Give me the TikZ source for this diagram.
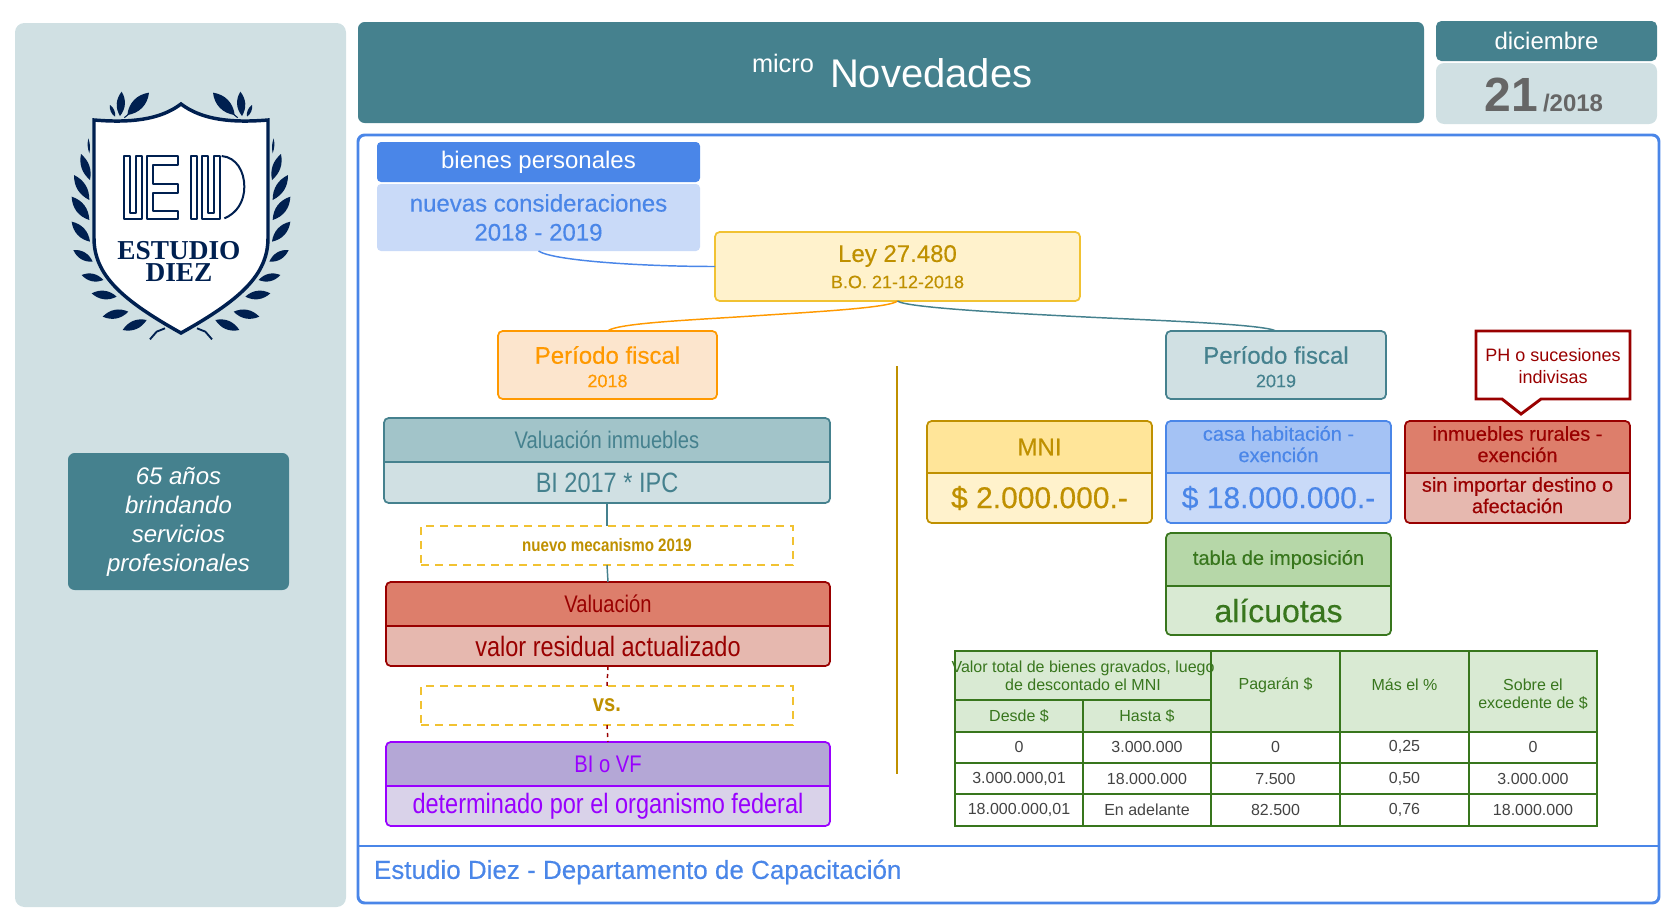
\documentclass[tikz,border=0pt]{standalone}
\usepackage{fontspec}
\setmainfont{Liberation Sans}
\newfontfamily\medfont[FakeBold=0.35]{Liberation Sans}
\newfontfamily\condfont[FakeStretch=0.84]{Liberation Sans}
\newfontfamily\condbold[FakeStretch=0.84]{Liberation Sans Bold}
\newfontfamily\logofont{Liberation Serif Bold}
\usetikzlibrary{calc}

\definecolor{tealD}{HTML}{45818E}
\definecolor{tealM}{HTML}{A2C4C9}
\definecolor{tealL}{HTML}{D0E0E3}
\definecolor{blueD}{HTML}{4A86E8}
\definecolor{blueM}{HTML}{A4C2F4}
\definecolor{blueL}{HTML}{C9DAF8}
\definecolor{yellD}{HTML}{BF9000}
\definecolor{yellS}{HTML}{F1C232}
\definecolor{yellM}{HTML}{FFE599}
\definecolor{yellL}{HTML}{FFF2CC}
\definecolor{redD}{HTML}{990000}
\definecolor{redM}{HTML}{DD7E6B}
\definecolor{redL}{HTML}{E6B8AF}
\definecolor{purpD}{HTML}{9900FF}
\definecolor{purpM}{HTML}{B4A7D6}
\definecolor{purpL}{HTML}{D9D2E9}
\definecolor{greenD}{HTML}{38761D}
\definecolor{greenM}{HTML}{B6D7A8}
\definecolor{greenL}{HTML}{D9EAD3}
\definecolor{orangeD}{HTML}{FF9900}
\definecolor{orangeL}{HTML}{FCE5CD}
\definecolor{greyD}{HTML}{666666}
\definecolor{cellink}{HTML}{434343}
\definecolor{navy}{HTML}{002050}

\tikzset{
  txt/.style={inner sep=0pt, outer sep=0pt, align=center},
  frame/.style={inner sep=0pt, outer sep=0pt, rounded corners=3.5pt},
  link/.style={line width=1.1pt},
  cell/.style={txt, text=cellink, font=\fontsize{12}{14}\selectfont},
  hcell/.style={txt, text=greenD, font=\fontsize{12}{13.5}\selectfont},
  dashbox/.style={inner sep=0pt, outer sep=0pt, draw=yellS, line width=1.1pt, dash pattern=on 6pt off 4.5pt}
}

% plain box from its corners: name, x0, y0, x1, y1, options, text
\newcommand{\plainbox}[7]{%
  \node[frame, #6, minimum width={(#4-#2)*0.75pt}, minimum height={(#5-#3)*0.75pt}]
    (#1) at ({(#2+#4)/2},{(#3+#5)/2}) {#7};}

% two part box: name, x0, x1, ytop, ysplit, ybottom, colour, head, body
\newcommand{\twobox}[9]{%
  \fill[#7L, rounded corners=3.5pt] (#2,#4) rectangle (#3,#6);
  \begin{scope}
    \clip[rounded corners=3.5pt] (#2,#4) rectangle (#3,#6);
    \fill[#7M] (#2,#4) rectangle (#3,#5);
  \end{scope}
  \node[frame, draw=#7D, line width=1.3pt, minimum width={(#3-#2)*0.75pt}, minimum height={(#6-#4)*0.75pt}]
    (#1) at ({(#2+#3)/2},{(#4+#6)/2}) {};
  \draw[#7D, line width=1.3pt] (#2,#5) -- (#3,#5);
  \node[txt, text=#7D] (#1h) at ({(#2+#3)/2},{(#4+#5)/2}) {#8};
  \node[txt, text=#7D] (#1b) at ({(#2+#3)/2},{(#5+#6)/2}) {#9};}

\newcommand{\laurel}{%
  \foreach \bx/\by/\tx/\ty/\ba in {
    268/460/265/415/15, 270/540/243/462/30, 268/600/222/525/32, 268/660/215/590/35,
    270/725/215/665/35, 278/785/220/750/35, 310/840/245/825/35, 350/890/275/880/35,
    385/935/308/950/35, 440/960/368/990/35, 345/350/330/315/30, 360/348/365/275/35,
    382/345/447/278/38}
    \fill[navy] (\bx,\by) to[bend left=\ba] (\tx,\ty) to[bend left=\ba] (\bx,\by);
  \draw[navy, line width=1.4pt] (495,985) -- (470,995) -- (450,1018);
  \draw[navy, line width=.8pt] (373,353) -- (395,335);}

\begin{document}
\begin{tikzpicture}[x=.75pt, y=-.75pt]
\useasboundingbox (0,0) rectangle (1677,921);

% side panel
\plainbox{side}{15}{23}{346}{907}{fill=tealL, rounded corners=7pt}{}
\plainbox{claim}{68}{453}{289}{590}{fill=tealD, rounded corners=5pt, text=white, align=center, font=\fontsize{18}{21.75}\selectfont\itshape}{65 años\\brindando\\servicios\\profesionales}

% logo
\begin{scope}[scale=1/3]
  \laurel
\end{scope}
\begin{scope}[shift={(362,0)}, xscale=-1/3, yscale=1/3]
  \laurel
\end{scope}
\draw[navy, line width=2.6pt, fill=white, line join=miter] (94,120) .. controls (130,123) and (160,120) .. (181,104) .. controls (202,120) and (232,123) .. (268,120) -- (268,238) .. controls (268,275) and (240,300) .. (181,333) .. controls (122,300) and (94,275) .. (94,238) -- cycle;
\begin{scope}[shift={(115,150)}, scale=1/3, navy, line width=1.5pt, line join=round]
  \draw (27,18) -- (45,18) -- (45,190) -- (62,190) -- (62,18) -- (80,18) -- (80,208) -- (27,208) -- cycle;
  \draw (97,18) -- (190,18) -- (190,45) -- (115,45) -- (115,102) -- (190,102) -- (190,128) -- (115,128) -- (115,182) -- (190,182) -- (190,208) -- (97,208) -- cycle;
  \draw (228,18) -- (245,18) -- (245,208) -- (228,208) -- cycle;
  \draw (262,18) -- (280,18) -- (280,190) -- (297,190) -- (297,18) -- (315,18) -- (315,208) -- (262,208) -- cycle;
  \draw (320,18) .. controls (365,22) and (388,65) .. (388,110) .. controls (388,155) and (365,190) .. (328,205);
\end{scope}
\node[txt, text=navy, font=\logofont\fontsize{20.5}{20}\selectfont] (estudio) at (179,251) {ESTUDIO};
\node[txt, text=navy, font=\logofont\fontsize{20.5}{20}\selectfont] (diez) at (179,272.5) {DIEZ};

% header
\plainbox{head}{358}{22}{1424}{123}{fill=tealD, rounded corners=5pt}{}
\node[txt, anchor=base west, text=white, font=\fontsize{19}{20}\selectfont] (micro) at (752,72) {micro};
\node[txt, anchor=base west, text=white, font=\fontsize{30}{32}\selectfont] (nov) at (830,87) {Novedades};
\plainbox{mes}{1436}{21}{1657}{61}{fill=tealD, rounded corners=4pt, text=white, font=\fontsize{18}{20}\selectfont}{diciembre}
\plainbox{dia}{1436}{63}{1657}{124}{fill=tealL, rounded corners=6pt}{}
\node[txt, anchor=base east, text=greyD, font=\bfseries\fontsize{36}{38}\selectfont] (dd) at (1538,111) {21};
\node[txt, anchor=base west, text=greyD, font=\bfseries\fontsize{18}{20}\selectfont] (aa) at (1543,111) {/2018};

% main frame
\plainbox{main}{358}{135}{1659}{903}{draw=blueD, line width=2.2pt, rounded corners=5pt}{}
\coordinate (footl) at (main.west |- 0,846);
\coordinate (footr) at (main.east |- 0,846);
\draw[blueD, line width=1.6pt] (footl) -- (footr);
\node[txt, anchor=west, text=blueD, font=\medfont\fontsize{19.5}{22}\selectfont] (foot) at (374,872) {Estudio Diez - Departamento de Capacitación};

% title boxes
\plainbox{bien}{377}{142}{700}{182}{fill=blueD, rounded corners=3pt, text=white, font=\fontsize{18}{20}\selectfont}{bienes personales}
\plainbox{cons}{377}{184}{700}{251}{fill=blueL, rounded corners=3pt, text=blueD, align=center, font=\medfont\fontsize{18}{21.75}\selectfont}{nuevas consideraciones\\2018 - 2019}
\plainbox{ley}{715}{232}{1080}{301}{fill=yellL, draw=yellS, line width=1.3pt}{}
\node[txt, text=yellD, font=\medfont\fontsize{18}{20}\selectfont] (leyt) at (897.5,256) {Ley 27.480};
\node[txt, text=yellD, font=\medfont\fontsize{13.5}{16}\selectfont] (leyd) at (897.5,282) {B.O. 21-12-2018};

\plainbox{per18}{498}{331}{717}{399}{fill=orangeL, draw=orangeD, line width=1.3pt}{}
\node[txt, text=orangeD, font=\medfont\fontsize{18}{20}\selectfont] (per18t) at (607.5,355) {Período fiscal};
\node[txt, text=orangeD, font=\medfont\fontsize{13.5}{16}\selectfont] (per18d) at (607.5,381) {2018};
\plainbox{per19}{1166}{331}{1386}{399}{fill=tealL, draw=tealD, line width=1.3pt}{}
\node[txt, text=tealD, font=\medfont\fontsize{18}{20}\selectfont] (per19t) at (1276,355) {Período fiscal};
\node[txt, text=tealD, font=\medfont\fontsize{13.5}{16}\selectfont] (per19d) at (1276,381) {2019};

% connectors of the top
\draw[blueD, link] (cons.south) .. controls +(15,10) and +(-70,0) .. (ley.west);
\coordinate (midor) at (752,316);
\draw[orangeD, link] (ley.south) .. controls +(-8,7) and +(60,-4) .. (midor) .. controls +(-60,4) and +(10,-8) .. (per18.north);
\coordinate (midte) at (1086,317);
\draw[tealD, link] (ley.south) .. controls +(8,7) and +(-60,-3) .. (midte) .. controls +(60,3) and +(-12,-7) .. (per19.north);

% left column
\twobox{vi}{384}{830}{418}{462}{503}{teal}{\condfont\fontsize{18}{20}\selectfont Valuación inmuebles}{\condfont\fontsize{21}{24}\selectfont BI 2017 * IPC}
\plainbox{nm}{421}{526}{793}{565}{dashbox, rounded corners=0pt, text=yellD, font=\condbold\fontsize{13.5}{16}\selectfont}{nuevo mecanismo 2019}
\twobox{va}{386}{830}{582}{626}{666}{red}{\condfont\fontsize{18}{20}\selectfont Valuación}{\condfont\fontsize{21}{24}\selectfont valor residual actualizado}
\plainbox{vs}{421}{686}{793}{725}{dashbox, rounded corners=0pt, text=yellD, font=\condbold\fontsize{18}{20}\selectfont}{vs.}
\twobox{bi}{386}{830}{742}{786}{826}{purp}{\condfont\fontsize{18}{20}\selectfont BI o VF}{\condfont\fontsize{21}{24}\selectfont determinado por el organismo federal}
\draw[tealD, link] (vi.south) -- (nm.north);
\draw[tealD, link] (nm.south) -- (va.north);
\draw[redD, link, dashed] (va.south) -- (vs.north);
\draw[redD, link, dashed] (vs.south) -- (bi.north);

% divider
\coordinate (divt) at (897,366);
\coordinate (divb) at (897,774);
\draw[yellD, line width=2pt] (divt) -- (divb);

% right column
\definecolor{yelM}{HTML}{FFE599}
\colorlet{mniM}{yellM}\colorlet{mniL}{yellL}\colorlet{mniD}{yellD}
\twobox{mni}{927}{1152}{421}{473}{523}{mni}{\medfont\fontsize{18}{20}\selectfont MNI}{\medfont\fontsize{22.5}{24}\selectfont \$ 2.000.000.-}
\twobox{casa}{1166}{1391}{421}{473}{523}{blue}{\medfont\fontsize{15}{16.5}\selectfont\begin{tabular}{@{}c@{}}casa habitación -\\[-.5pt]exención\end{tabular}}{\medfont\fontsize{22.5}{24}\selectfont \$ 18.000.000.-}
\twobox{rur}{1405}{1630}{421}{473}{523}{red}{\medfont\fontsize{15}{16.5}\selectfont\begin{tabular}{@{}c@{}}inmuebles rurales -\\[-.5pt]exención\end{tabular}}{\medfont\fontsize{15}{16.5}\selectfont\begin{tabular}{@{}c@{}}sin importar destino o\\[-.5pt]afectación\end{tabular}}
\twobox{tab}{1166}{1391}{533}{586}{635}{green}{\medfont\fontsize{15}{16.5}\selectfont tabla de imposición}{\medfont\fontsize{24}{26}\selectfont alícuotas}

% callout
\draw[redD, fill=white, line width=2.2pt, line join=miter] (1476,331) -- (1630,331) -- (1630,399) -- (1541,399) -- (1521,414) -- (1502,399) -- (1476,399) -- cycle;
\node[txt, text=redD, font=\fontsize{13.5}{16.5}\selectfont] (ph) at (1553,366) {PH o sucesiones\\indivisas};

% table
\fill[greenL] (955,651) rectangle (1597,732);
\draw[greenD, line width=1.1pt] (955,651) rectangle (1597,826);
\foreach \ty in {732,763,794} \draw[greenD, line width=1.1pt] (955,\ty) -- (1597,\ty);
\foreach \tx in {1211,1340,1469} \draw[greenD, line width=1.1pt] (\tx,651) -- (\tx,826);
\draw[greenD, line width=1.1pt] (1083,700) -- (1083,826);
\draw[greenD, line width=1.1pt] (955,700) -- (1211,700);
\node[hcell] (h1) at (1083,676) {Valor total de bienes gravados, luego\\de descontado el MNI};
\node[hcell] (h2) at (1019,716) {Desde \$};
\node[hcell] (h3) at (1147,716) {Hasta \$};
\node[hcell] (h4) at (1275.5,685) {Pagarán \$};
\node[hcell] (h5) at (1404.5,685) {Más el \%};
\node[hcell] (h6) at (1533,694) {Sobre el\\excedente de \$};
\foreach \rowy/\ca/\cb/\cc/\cd/\ce in {747/0/3.000.000/0/{0,25}/0, 779/{3.000.000,01}/18.000.000/7.500/{0,50}/3.000.000, 810/{18.000.000,01}/En adelante/82.500/{0,76}/18.000.000} {
  \node[cell] (a\rowy) at (1019,\rowy) {\ca};
  \node[cell] (b\rowy) at (1147,\rowy) {\cb};
  \node[cell] (c\rowy) at (1275.5,\rowy) {\cc};
  \node[cell] (d\rowy) at (1404.5,\rowy) {\cd};
  \node[cell] (e\rowy) at (1533,\rowy) {\ce};
}

\end{tikzpicture}
\end{document}
